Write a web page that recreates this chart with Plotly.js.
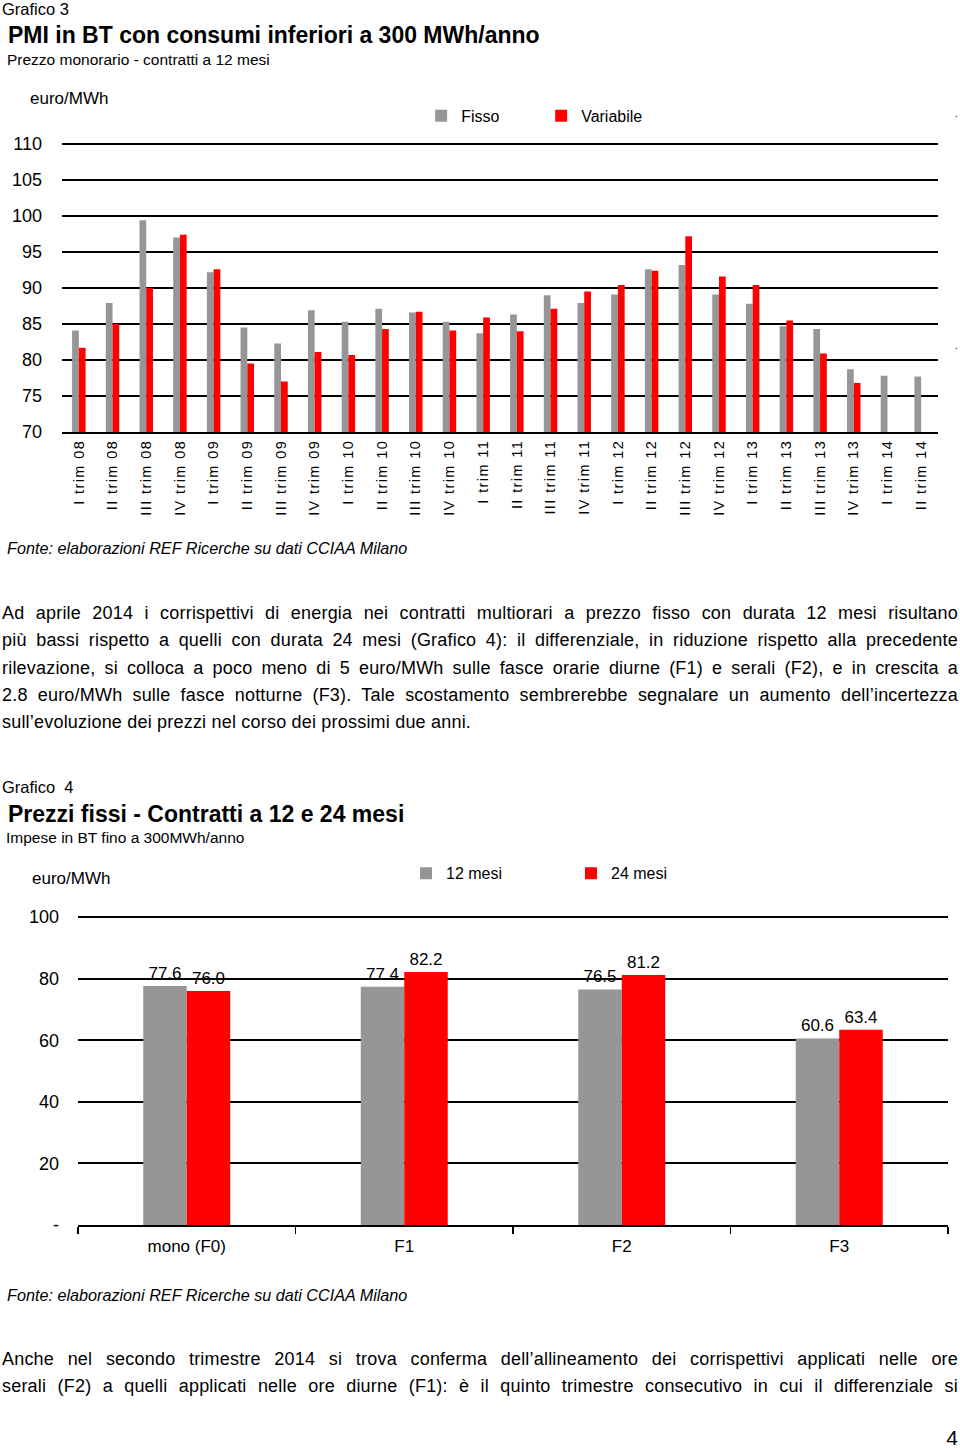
<!DOCTYPE html>
<html>
<head>
<meta charset="utf-8">
<script src="https://cdn.plot.ly/plotly-3.0.1.min.js"></script>
<style>
  body { margin: 0; background: #fff; }
  #page { position: relative; width: 960px; height: 1448px; overflow: hidden; font-family: "Liberation Sans", Arial, sans-serif; color: #000; }
  .abs { position: absolute; white-space: nowrap; }
  .grafico { font-size: 16.5px; line-height: 18px; }
  .titolo { font-weight: bold; font-size: 23px; line-height: 26px; }
  .sotto { font-size: 15.5px; line-height: 18px; }
  .fonte { font-style: italic; font-size: 16.2px; line-height: 18px; }
  .unit { font-size: 17px; line-height: 18px; }
  .testo { position: absolute; left: 2px; width: 956px; font-family: "Liberation Sans", Arial, sans-serif; font-size: 18px; letter-spacing: 0.2px; }
  .testo div { height: 27.3px; line-height: 27.3px; text-align: justify; text-align-last: justify; white-space: nowrap; }
  .testo div.last { text-align-last: left; }
  .chart { position: absolute; left: 0; }
  #chart1 .xtick text { letter-spacing: 1.4px; }
</style>
</head>
<body>
<div id="page">
  <div class="abs grafico" style="left:2px; top:0px;">Grafico 3</div>
  <div class="abs titolo" style="left:8px; top:22px;">PMI in BT con consumi inferiori a 300 MWh/anno</div>
  <div class="abs sotto" style="left:7px; top:51px;">Prezzo monorario - contratti a 12 mesi</div>
  <div class="abs unit" style="left:30px; top:90px;">euro/MWh</div>
  <div class="abs" style="left:955px; top:108px; font-size:10px;">.</div>
  <div class="abs" style="left:955px; top:340px; font-size:10px;">.</div>

  <div id="chart1" class="chart" style="top:0; width:960px; height:560px;"></div>

  <div class="abs fonte" style="left:7px; top:539px;">Fonte: elaborazioni REF Ricerche su dati CCIAA Milano</div>

  <div class="testo" style="top:600px;">
    <div>Ad aprile 2014 i corrispettivi di energia nei contratti multiorari a prezzo fisso con durata 12 mesi risultano</div>
    <div>più bassi rispetto a quelli con durata 24 mesi (Grafico 4): il differenziale, in riduzione rispetto alla precedente</div>
    <div>rilevazione, si colloca a poco meno di 5 euro/MWh sulle fasce orarie diurne (F1) e serali (F2), e in crescita a</div>
    <div>2.8 euro/MWh sulle fasce notturne (F3). Tale scostamento sembrerebbe segnalare un aumento dell’incertezza</div>
    <div class="last">sull’evoluzione dei prezzi nel corso dei prossimi due anni.</div>
  </div>

  <div class="abs grafico" style="left:2px; top:778px;">Grafico&nbsp; 4</div>
  <div class="abs titolo" style="left:8px; top:801px;">Prezzi fissi - Contratti a 12 e 24 mesi</div>
  <div class="abs sotto" style="left:6px; top:829px;">Impese in BT fino a 300MWh/anno</div>
  <div class="abs unit" style="left:32px; top:870px;">euro/MWh</div>

  <div id="chart2" class="chart" style="top:760px; width:960px; height:560px;"></div>

  <div class="abs fonte" style="left:7px; top:1286px;">Fonte: elaborazioni REF Ricerche su dati CCIAA Milano</div>

  <div class="testo" style="top:1346px;">
    <div>Anche nel secondo trimestre 2014 si trova conferma dell’allineamento dei corrispettivi applicati nelle ore</div>
    <div>serali (F2) a quelli applicati nelle ore diurne (F1): è il quinto trimestre consecutivo in cui il differenziale si</div>
  </div>

  <div class="abs" style="right:2px; top:1426px; font-size:21px; line-height:24px;">4</div>
</div>

<script>
// Grafico 3 - prezzo monorario, contratti a 12 mesi
const trimestri = [
    'I trim 08', 'II trim 08', 'III trim 08', 'IV trim 08',
    'I trim 09', 'II trim 09', 'III trim 09', 'IV trim 09',
    'I trim 10', 'II trim 10', 'III trim 10', 'IV trim 10',
    'I trim 11', 'II trim 11', 'III trim 11', 'IV trim 11',
    'I trim 12', 'II trim 12', 'III trim 12', 'IV trim 12',
    'I trim 13', 'II trim 13', 'III trim 13', 'IV trim 13',
    'I trim 14', 'II trim 14'
];
const fisso = [84.1, 87.9, 99.4, 97.0, 92.2, 84.5, 82.3, 86.9, 85.3, 87.1, 86.6, 85.3,
    83.7, 86.3, 89.0, 87.9, 89.1, 92.6, 93.2, 89.1, 87.8, 84.7, 84.3, 78.7, 77.8, 77.7];
const variabile = [81.7, 85.0, 90.0, 97.4, 92.6, 79.5, 77.0, 81.1, 80.7, 84.3, 86.7, 84.1,
    85.9, 84.0, 87.1, 89.5, 90.4, 92.4, 97.2, 91.6, 90.4, 85.5, 80.9, 76.8, null, null];

// Grafico 4 - prezzi fissi per fascia
const fasce = ['mono (F0)', 'F1', 'F2', 'F3'];
const mesi12 = [77.6, 77.4, 76.5, 60.6];
const mesi24 = [76.0, 82.2, 81.2, 63.4];
const ticks4 = [0, 20, 40, 60, 80, 100];
const ticks4Text = ['-', '20', '40', '60', '80', '100'];

const GREY = '#969696';
const RED = '#ff0000';
const FONT = 'Liberation Sans, Arial, sans-serif';

const trace1a = { x: trimestri, y: fisso, name: 'Fisso', type: 'bar', marker: { color: GREY } };
const trace1b = { x: trimestri, y: variabile, name: 'Variabile', type: 'bar', marker: { color: RED } };

// top of the range is padded a little so that the 110 gridline is kept
const layout1 = {
    width: 960, height: 560,
    margin: { l: 62, r: 22, t: 140, b: 128 },
    paper_bgcolor: 'rgba(0,0,0,0)',
    plot_bgcolor: 'rgba(0,0,0,0)',
    font: { family: FONT, size: 16, color: '#000' },
    barmode: 'group',
    bargap: 0.6,
    bargroupgap: 0,
    showlegend: true,
    legend: {
        orientation: 'h', x: 0.41, xanchor: 'left', y: 1.083, yanchor: 'middle',
        font: { size: 16 }, entrywidth: 75, itemwidth: 30, traceorder: 'normal'
    },
    xaxis: {
        type: 'category', tickangle: -90, ticks: '',
        tickfont: { size: 14.5 },
        showline: true, linecolor: '#000', linewidth: 2,
        showgrid: false, fixedrange: true
    },
    yaxis: {
        range: [70, 110.55], tickvals: [70, 75, 80, 85, 90, 95, 100, 105, 110],
        showgrid: true, gridcolor: '#000', gridwidth: 2,
        zeroline: false, ticks: '', ticklabelstandoff: 19,
        tickfont: { size: 18 }, fixedrange: true
    }
};

Plotly.newPlot('chart1', [trace1a, trace1b], layout1, { displayModeBar: false, staticPlot: true });

const trace2a = {
    x: fasce, y: mesi12, name: '12 mesi', type: 'bar', marker: { color: GREY },
    texttemplate: '%{y:.1f}', textposition: 'outside', textfont: { size: 17, color: '#000' }, cliponaxis: false
};
const trace2b = {
    x: fasce, y: mesi24, name: '24 mesi', type: 'bar', marker: { color: RED },
    texttemplate: '%{y:.1f}', textposition: 'outside', textfont: { size: 17, color: '#000' }, cliponaxis: false
};

const layout2 = {
    width: 960, height: 560,
    margin: { l: 78, r: 12, t: 154, b: 95 },
    paper_bgcolor: 'rgba(0,0,0,0)',
    plot_bgcolor: 'rgba(0,0,0,0)',
    font: { family: FONT, size: 16, color: '#000' },
    barmode: 'group',
    bargap: 0.6,
    bargroupgap: 0,
    showlegend: true,
    legend: {
        orientation: 'h', x: 0.377, xanchor: 'left', y: 1.131, yanchor: 'middle',
        font: { size: 16 }, entrywidth: 120, itemwidth: 30, traceorder: 'normal'
    },
    xaxis: {
        type: 'category', range: [-0.5, 3.5],
        ticks: 'outside', tickson: 'boundaries', ticklen: 7, tickwidth: 1.5, tickcolor: '#000',
        showline: true, linecolor: '#000', linewidth: 2, ticklabelstandoff: 5,
        showgrid: false, tickfont: { size: 17 }, fixedrange: true
    },
    yaxis: {
        range: [0, 101], tickvals: ticks4, ticktext: ticks4Text,
        showgrid: true, gridcolor: '#000', gridwidth: 2,
        zeroline: false, ticks: '', ticklabelstandoff: 18,
        tickfont: { size: 18 }, fixedrange: true
    }
};

Plotly.newPlot('chart2', [trace2a, trace2b], layout2, { displayModeBar: false, staticPlot: true });
</script>
</body>
</html>
